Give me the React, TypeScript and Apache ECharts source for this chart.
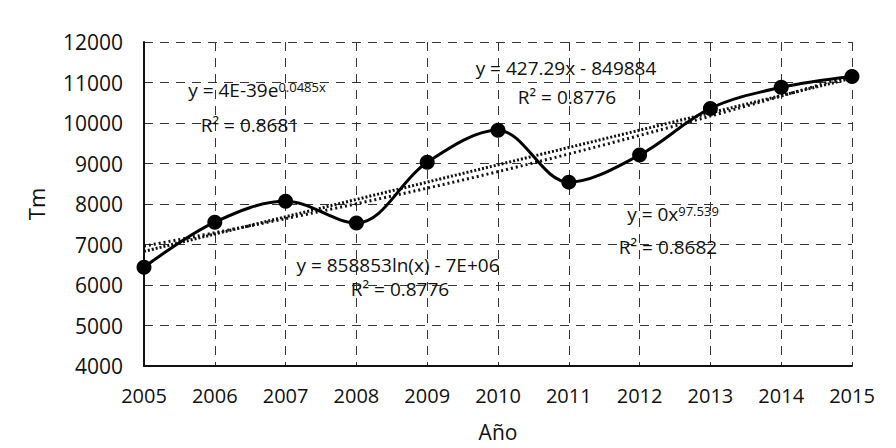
import React, { useEffect, useRef } from "react";
import * as echarts from "echarts";

const years = [2005, 2006, 2007, 2008, 2009, 2010, 2011, 2012, 2013, 2014, 2015];
const tonnes = [6440, 7550, 8065, 7530, 9030, 9820, 8540, 9210, 10360, 10880, 11150];
// linear trend endpoints
const linearTrendYears = [2005, 2015];
const linearTrendValues = [6830, 11105];
// exponential / power trend (slightly curved)
const expTrendYears = [2005, 2010, 2015];
const expTrendValues = [6960, 8800, 11180];

const yTicks = { min: 4000, max: 12000, interval: 1000 };

const FONT = "'Open Sans', 'Noto Sans', sans-serif";

export default function App() {
  const ref = useRef<HTMLDivElement>(null);
  useEffect(() => {
    if (!ref.current) return;
    const chart = echarts.init(ref.current, null, { renderer: "svg" });
    const gridLine = { show: true, lineStyle: { color: "#333", width: 1, type: [9, 7] as any } };
    const rich = {
      a: { fontSize: 19, fontFamily: FONT, color: "#111", lineHeight: 20 },
      s: { fontSize: 13, fontFamily: FONT, color: "#111", verticalAlign: "top" as any, lineHeight: 20 },
    };
    const txt = (x: number, y: number, text: string) => ({
      type: "text",
      x,
      y,
      style: { text, rich, align: "center", verticalAlign: "middle", font: `19px ${FONT}`, fill: "#111" },
      z: 100,
    });
    chart.setOption({
      animation: false,
      backgroundColor: "#fff",
      grid: { left: 144, right: 44, top: 42, bottom: 82 },
      xAxis: {
        type: "value",
        min: 2005,
        max: 2015,
        interval: 1,
        name: "Año",
        nameLocation: "middle",
        nameGap: 55,
        nameTextStyle: { fontSize: 21, fontFamily: FONT, color: "#111" },
        axisLine: { show: true, onZero: false, lineStyle: { color: "#111", width: 2 } },
        axisTick: { show: false },
        axisLabel: { fontSize: 20, fontFamily: FONT, color: "#111", margin: 19, formatter: (v: number) => String(v) },
        splitLine: gridLine,
      },
      yAxis: {
        type: "value",
        min: yTicks.min,
        max: yTicks.max,
        interval: yTicks.interval,
        name: "Tm",
        nameLocation: "middle",
        nameGap: 97,
        nameTextStyle: { fontSize: 22, fontFamily: FONT, color: "#111" },
        axisLine: { show: true, lineStyle: { color: "#111", width: 2 } },
        axisTick: { show: false },
        axisLabel: { fontSize: 21, fontFamily: FONT, color: "#111", margin: 21, formatter: (v: number) => String(v) },
        splitLine: gridLine,
      },
      series: [
        {
          type: "line",
          data: linearTrendYears.map((y, i) => [y, linearTrendValues[i]]),
          showSymbol: false,
          lineStyle: { color: "#111", width: 3, type: [2, 2] as any },
          z: 3,
        },
        {
          type: "line",
          data: expTrendYears.map((y, i) => [y, expTrendValues[i]]),
          smooth: true,
          showSymbol: false,
          lineStyle: { color: "#111", width: 3, type: [2, 3] as any },
          z: 3,
        },
        {
          type: "line",
          data: years.map((y, i) => [y, tonnes[i]]),
          smooth: 0.35,
          symbol: "circle",
          symbolSize: 15,
          itemStyle: { color: "#000" },
          lineStyle: { color: "#000", width: 3 },
          z: 5,
        },
      ],
      graphic: [
        txt(257, 90, "{a|y = 4E-39e}{s|0.0485x}"),
        txt(250, 125, "{a|R² = 0.8681}"),
        txt(566, 68, "{a|y = 427.29x - 849884}"),
        txt(567, 97, "{a|R² = 0.8776}"),
        txt(398, 265, "{a|y = 858853ln(x) - 7E+06}"),
        txt(400, 289, "{a|R² = 0.8776}"),
        txt(673, 214, "{a|y = 0x}{s|97.539}"),
        txt(668, 247, "{a|R² = 0.8682}"),
      ],
    });
    return () => chart.dispose();
  }, []);
  return <div ref={ref} style={{ width: 896, height: 448, margin: -8 }} />;
}
